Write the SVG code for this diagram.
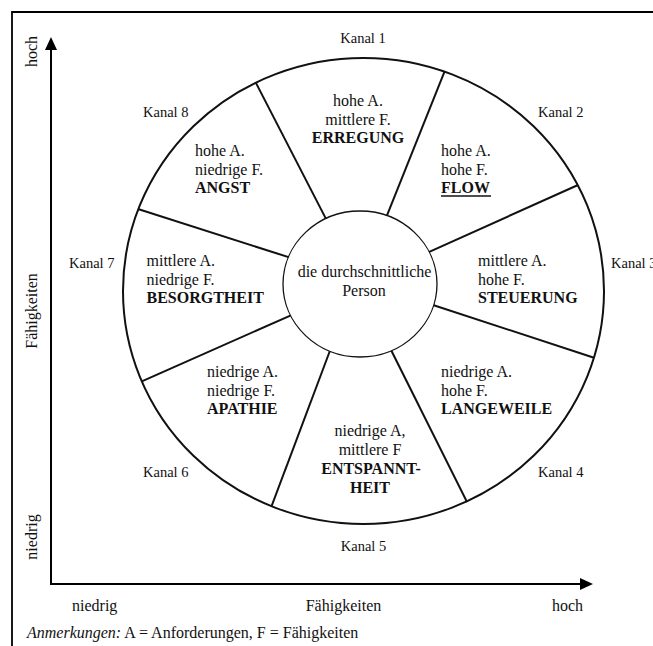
<svg xmlns="http://www.w3.org/2000/svg" width="653" height="646" viewBox="0 0 653 646">
<defs>
<style>
text{font-family:"Liberation Serif","Times New Roman",serif;font-size:16px;fill:#111}
.b{font-weight:bold}
.k{font-size:14.5px}
.c{text-anchor:middle}
.ax{stroke:#000;stroke-width:2;fill:none}
.sp{stroke:#111;stroke-width:2;fill:none}
</style>
</defs>
<rect width="653" height="646" fill="#fff"/>
<path d="M12,700 V12 H700" fill="none" stroke="#000" stroke-width="1.8"/>

<g id="axes">
<path class="ax" d="M51,48 V584 H582"/>
<polygon points="51,37 45,50 57,50" fill="#000"/>
<polygon points="593,584 580,578 580,590" fill="#000"/>
<text class="c" transform="translate(37,51.5) rotate(-90)">hoch</text>
<text class="c" transform="translate(37,311) rotate(-90)">Fähigkeiten</text>
<text class="c" transform="translate(37,537) rotate(-90)">niedrig</text>
<text x="72" y="611">niedrig</text>
<text class="c" x="343.5" y="611">Fähigkeiten</text>
<text x="552" y="611">hoch</text>
</g>

<g id="connectors">
<ellipse cx="363.5" cy="291" rx="240.5" ry="233" fill="none" stroke="#111" stroke-width="2"/>
<line class="sp" x1="328.7" y1="224.1" x2="255.8" y2="82.6"/>
<line class="sp" x1="385" y1="220.4" x2="444.5" y2="71.6"/>
<line class="sp" x1="423.7" y1="254.3" x2="578" y2="185"/>
<line class="sp" x1="428.4" y1="303.5" x2="594" y2="357.7"/>
<line class="sp" x1="391.4" y1="350.8" x2="467" y2="502"/>
<line class="sp" x1="330.8" y1="348.5" x2="271.5" y2="506.3"/>
<line class="sp" x1="294.3" y1="313.8" x2="141.8" y2="381.4"/>
<line class="sp" x1="295.6" y1="259.4" x2="138" y2="209"/>
</g>

<g id="center">
<ellipse cx="360" cy="284" rx="77" ry="73" fill="#fff" stroke="#111" stroke-width="1.3"/>
<text class="c" x="364.5" y="277">die durchschnittliche</text>
<text class="c" x="364" y="296">Person</text>
</g>

<g id="kanal1">
<text class="k c" x="363" y="43">Kanal 1</text>
<text class="c" x="358" y="106">hohe A.</text>
<text class="c" x="358" y="124.5">mittlere F.</text>
<text class="b c" x="358" y="143">ERREGUNG</text>
</g>

<g id="kanal2">
<text class="k" x="538" y="117">Kanal 2</text>
<text x="441" y="156">hohe A.</text>
<text x="441" y="174.5">hohe F.</text>
<text class="b" x="441" y="193">FLOW</text>
<line x1="441" y1="196" x2="491" y2="196" stroke="#111" stroke-width="1.6"/>
</g>

<g id="kanal3">
<text class="k" x="611" y="268">Kanal 3</text>
<text x="478" y="266">mittlere A.</text>
<text x="478" y="284.5">hohe F.</text>
<text class="b" x="478" y="303">STEUERUNG</text>
</g>

<g id="kanal4">
<text class="k" x="538" y="477">Kanal 4</text>
<text x="441" y="377">niedrige A.</text>
<text x="441" y="395.5">hohe F.</text>
<text class="b" x="441" y="414">LANGEWEILE</text>
</g>

<g id="kanal5">
<text class="k c" x="363.5" y="551">Kanal 5</text>
<text class="c" x="370" y="436">niedrige A,</text>
<text class="c" x="370" y="455">mittlere F</text>
<text class="b c" x="371" y="474">ENTSPANNT-</text>
<text class="b c" x="370" y="493">HEIT</text>
</g>

<g id="kanal6">
<text class="k" x="143" y="477">Kanal 6</text>
<text x="207" y="377">niedrige A.</text>
<text x="207" y="395.5">niedrige F.</text>
<text class="b" x="207" y="414">APATHIE</text>
</g>

<g id="kanal7">
<text class="k" x="69" y="268">Kanal 7</text>
<text x="146.5" y="266">mittlere A.</text>
<text x="146.5" y="284.5">niedrige F.</text>
<text class="b" x="146.5" y="303">BESORGTHEIT</text>
</g>

<g id="kanal8">
<text class="k" x="143" y="117">Kanal 8</text>
<text x="195" y="156">hohe A.</text>
<text x="195" y="174.5">niedrige F.</text>
<text class="b" x="195" y="193">ANGST</text>
</g>

<g id="note">
<text x="27" y="638"><tspan font-style="italic">Anmerkungen:</tspan> A = Anforderungen, F = Fähigkeiten</text>
</g>
</svg>
